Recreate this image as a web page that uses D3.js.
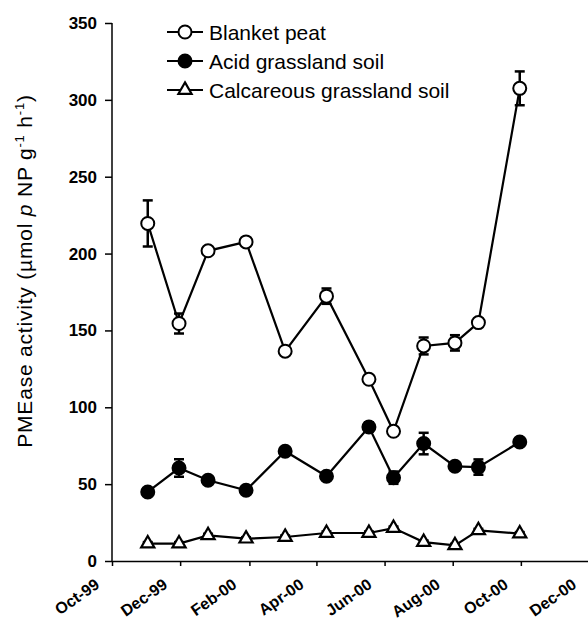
<!DOCTYPE html>
<html>
<head>
<meta charset="utf-8">
<script src="https://cdn.jsdelivr.net/npm/d3@7"></script>
<style>
  body { margin: 0; background: #fff; }
  svg { font-family: "Liberation Sans", Arial, sans-serif; }
</style>
</head>
<body>
<div id="chart"></div>
<script>
// sampling dates
var sampleDates = ["1999-11-02", "1999-11-30", "1999-12-26", "2000-01-29", "2000-03-04", "2000-04-10",
                   "2000-05-18", "2000-06-09", "2000-07-06", "2000-08-03", "2000-08-24", "2000-09-30"];

var seriesNames = ["Blanket peat", "Acid grassland soil", "Calcareous grassland soil"];

var peatValues = [219.6, 154.5, 201.8, 207.6, 136.5, 172.3, 118.2, 84.4, 139.9, 141.9, 155.1, 307.5];
var peatErr    = [15, 6.5, 2, 2, 2, 5, 2, 2, 5.5, 5, 2, 11];

var acidValues = [44.9, 60.5, 52.5, 46, 71.4, 55.1, 87.2, 54.2, 76.4, 61.6, 61.1, 77.4];
var acidErr    = [2, 5.7, 2, 2, 2, 2, 3, 4, 7, 2, 5, 2];

var calcValues = [11.3, 11.3, 16.7, 14.5, 15.6, 18.2, 18.2, 21.4, 12.3, 10.2, 19.9, 17.8];
var calcErr    = [1, 1, 1, 1, 1, 1, 1, 1, 1, 1, 1, 1];

var yTicks = [0, 50, 100, 150, 200, 250, 300, 350];
var xTickLabels = ["Oct-99", "Dec-99", "Feb-00", "Apr-00", "Jun-00", "Aug-00", "Oct-00", "Dec-00"];

var width = 588, height = 620;
var parse = d3.timeParse("%Y-%m-%d");
var fmt = d3.timeFormat("%b-%y");

var svg = d3.select("#chart").append("svg")
    .attr("width", width)
    .attr("height", height);

var x = d3.scaleTime()
    .domain([parse("1999-10-01"), parse("2000-12-01")])
    .range([112, 589]);

var y = d3.scaleLinear()
    .domain([0, 350])
    .range([561, 23]);

// y axis
var yAxis = svg.append("g")
    .attr("transform", "translate(112,0)")
    .call(d3.axisLeft(y).tickValues(yTicks).tickSize(7).tickPadding(8));
yAxis.select(".domain").attr("stroke-width", 1.5).attr("d", "M0," + y(0) + "V" + y(350));
yAxis.selectAll(".tick line").attr("stroke-width", 1.5);
yAxis.selectAll("text")
    .style("font-size", "17px")
    .style("font-weight", "bold");

// x axis
var xTickDates = xTickLabels.map(function(s) { return d3.timeParse("%b-%y")(s); });
var xAxis = svg.append("g")
    .attr("transform", "translate(0," + y(0) + ")")
    .call(d3.axisBottom(x).tickValues(xTickDates).tickFormat(fmt).tickSize(5).tickSizeOuter(0));
xAxis.select(".domain").attr("stroke-width", 1.5);
xAxis.selectAll(".tick line").attr("stroke-width", 1.5);
xAxis.selectAll("text")
    .style("font-size", "16px")
    .style("font-weight", "bold")
    .style("text-anchor", "end")
    .attr("y", 0)
    .attr("dy", "0")
    .attr("transform", "translate(-12,26) rotate(-35)");

// y axis title
var title = svg.append("text")
    .attr("transform", "translate(32,271) rotate(-90)")
    .attr("text-anchor", "middle")
    .style("font-size", "21px")
    .style("letter-spacing", "0.8px");
title.append("tspan").text("PMEase activity (\u00b5mol ");
title.append("tspan").style("font-style", "italic").text("p");
title.append("tspan").text(" NP g");
title.append("tspan").attr("dy", -8).style("font-size", "13px").text("-1");
title.append("tspan").attr("dy", 8).text(" h");
title.append("tspan").attr("dy", -8).style("font-size", "13px").text("-1");
title.append("tspan").attr("dy", 8).text(")");

var series = [
  {name: seriesNames[0], values: peatValues, err: peatErr, marker: "circle", fill: "#fff"},
  {name: seriesNames[1], values: acidValues, err: acidErr, marker: "circle", fill: "#000"},
  {name: seriesNames[2], values: calcValues, err: calcErr, marker: "triangle", fill: "#fff"}
];

var line = d3.line()
    .x(function(d) { return x(d.date); })
    .y(function(d) { return y(d.v); });

function drawMarker(g, s) {
  if (s.marker === "circle") {
    g.append("circle").attr("r", 6.5)
      .attr("fill", s.fill).attr("stroke", "#000").attr("stroke-width", 2);
  } else {
    g.append("path").attr("d", d3.symbol().type(d3.symbolTriangle).size(75)())
      .attr("fill", s.fill).attr("stroke", "#000").attr("stroke-width", 2.2);
  }
}

series.forEach(function(s) {
  var pts = s.values.map(function(v, i) {
    return {date: parse(sampleDates[i]), v: v, e: s.err[i]};
  });
  var g = svg.append("g");
  g.append("path")
    .datum(pts)
    .attr("d", line)
    .attr("fill", "none")
    .attr("stroke", "#000")
    .attr("stroke-width", 2.2);

  // error bars
  var eb = g.selectAll(".err").data(pts).join("g").attr("class", "err");
  eb.append("line")
    .attr("x1", function(d) { return x(d.date); })
    .attr("x2", function(d) { return x(d.date); })
    .attr("y1", function(d) { return y(d.v - d.e); })
    .attr("y2", function(d) { return y(d.v + d.e); })
    .attr("stroke", "#000").attr("stroke-width", 2.5);
  [-1, 1].forEach(function(sign) {
    eb.append("line")
      .attr("x1", function(d) { return x(d.date) - 5; })
      .attr("x2", function(d) { return x(d.date) + 5; })
      .attr("y1", function(d) { return y(d.v + sign * d.e); })
      .attr("y2", function(d) { return y(d.v + sign * d.e); })
      .attr("stroke", "#000").attr("stroke-width", 2.5);
  });

  // markers
  g.selectAll(".mk").data(pts).join("g")
    .attr("class", "mk")
    .attr("transform", function(d) { return "translate(" + x(d.date) + "," + y(d.v) + ")"; })
    .each(function() { drawMarker(d3.select(this), s); });
});

// legend
var legend = svg.append("g");
series.forEach(function(s, i) {
  var ly = 32 + i * 29;
  var row = legend.append("g").attr("transform", "translate(0," + ly + ")");
  row.append("line").attr("x1", 167).attr("x2", 203).attr("y1", 0).attr("y2", 0)
    .attr("stroke", "#000").attr("stroke-width", 2.2);
  var m = row.append("g").attr("transform", "translate(185,0)");
  drawMarker(m, s);
  row.append("text").attr("x", 209).attr("y", 0).attr("dy", "0.36em")
    .style("font-size", "21px").text(s.name);
});
</script>
</body>
</html>
